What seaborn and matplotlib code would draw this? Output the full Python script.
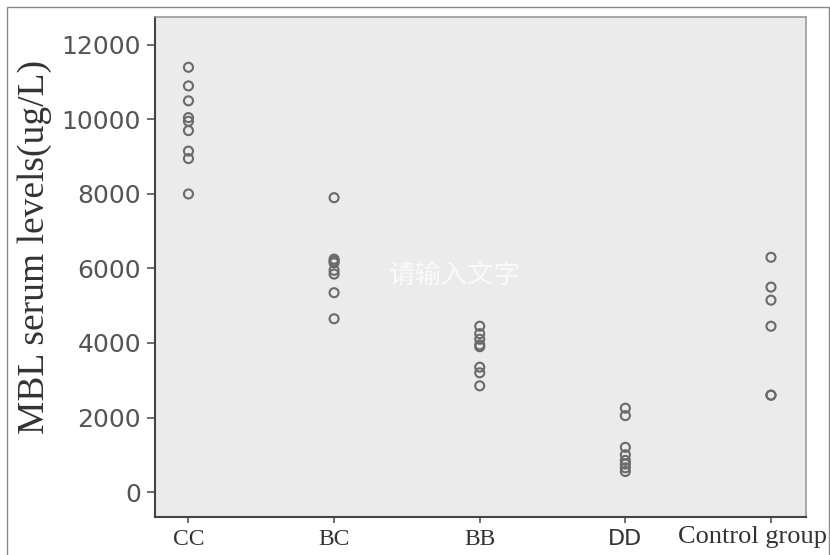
import pandas as pd
import matplotlib.pyplot as plt
import seaborn as sns
from matplotlib.patches import Rectangle

# --- data ---
groups = ['CC', 'BC', 'BB', 'DD', 'Control group']
cc_vals = [11400, 10900, 10500, 10050, 9950, 9700, 9150, 8950, 8000]
bc_vals = [7900, 6250, 6200, 6150, 5950, 5850, 5350, 4650]
bb_vals = [4450, 4250, 4100, 3950, 3900, 3350, 3200, 2850]
dd_vals = [2250, 2050, 1200, 1000, 850, 750, 650, 550]
ctrl_vals = [6300, 5500, 5150, 4450, 2600, 2600]
y_ticks = [0, 2000, 4000, 6000, 8000, 10000, 12000]

rows = []
for g, vals in zip(groups, [cc_vals, bc_vals, bb_vals, dd_vals, ctrl_vals]):
    for v in vals:
        rows.append({'group': g, 'MBL': v})
df = pd.DataFrame(rows)

sns.set_style('white')
fig = plt.figure(figsize=(8.3, 5.55), dpi=100)
ax = fig.add_axes([0.1867, 0.0685, 0.7843, 0.9009])
ax.set_facecolor('#ebebeb')

sns.stripplot(data=df, x='group', y='MBL', order=groups, jitter=False,
              size=6.5, ax=ax, zorder=3)
# hollow grey circles
for c in ax.collections:
    c.set_facecolor('none')
    c.set_edgecolor('#6a6a6a')
    c.set_linewidth(1.5)

ax.set_xlim(-0.23, 4.24)
ax.set_ylim(-670, 12750)
ax.set_yticks(y_ticks)
ax.set_yticklabels([str(t) for t in y_ticks], fontsize=18, color='#555555',
                   family='DejaVu Sans')
ax.set_xticks(range(len(groups)))
# last label is drawn separately, shifted left so it fits inside the picture
ax.set_xticklabels(groups[:-1] + [''], fontsize=17, color='#333333',
                   family='Liberation Serif')
for lab in ax.get_xticklabels():
    if lab.get_text() == 'DD':
        lab.set_family('DejaVu Sans')
        lab.set_fontsize(16)
ax.annotate(groups[-1], xy=(len(groups) - 1, 0), xycoords=('data', 'axes fraction'),
            xytext=(-13, -14.5), textcoords='offset points', ha='center', va='center',
            fontsize=19, color='#333333', family='Liberation Serif',
            annotation_clip=False)

ax.tick_params(axis='x', direction='out', length=4, width=1.2, color='#555555',
               bottom=True, pad=5)
ax.tick_params(axis='y', direction='out', length=6, width=1.2, color='#555555',
               left=True, pad=4)

ax.set_xlabel('')
ax.set_ylabel('MBL serum levels(ug/L)', fontsize=27, color='#333333',
              family='Liberation Serif')
ax.yaxis.set_label_coords(-0.158, 0.54)

for side in ['left', 'bottom']:
    ax.spines[side].set_color('#444444')
    ax.spines[side].set_linewidth(1.5)
for side in ['top', 'right']:
    ax.spines[side].set_color('#999999')
    ax.spines[side].set_linewidth(1.2)

# faint watermark text
ax.text(0.46, 0.484, '请输入文字', transform=ax.transAxes, fontsize=19,
        color='white', alpha=0.75, ha='center', va='center',
        family=['Noto Sans CJK SC', 'DejaVu Sans'])

# thin frame around the whole picture
fig.patches.append(Rectangle((0.009, -0.01), 0.99, 0.997, transform=fig.transFigure,
                             fill=False, edgecolor='#888888', linewidth=1.0))

fig.savefig('out.png', dpi=100)
